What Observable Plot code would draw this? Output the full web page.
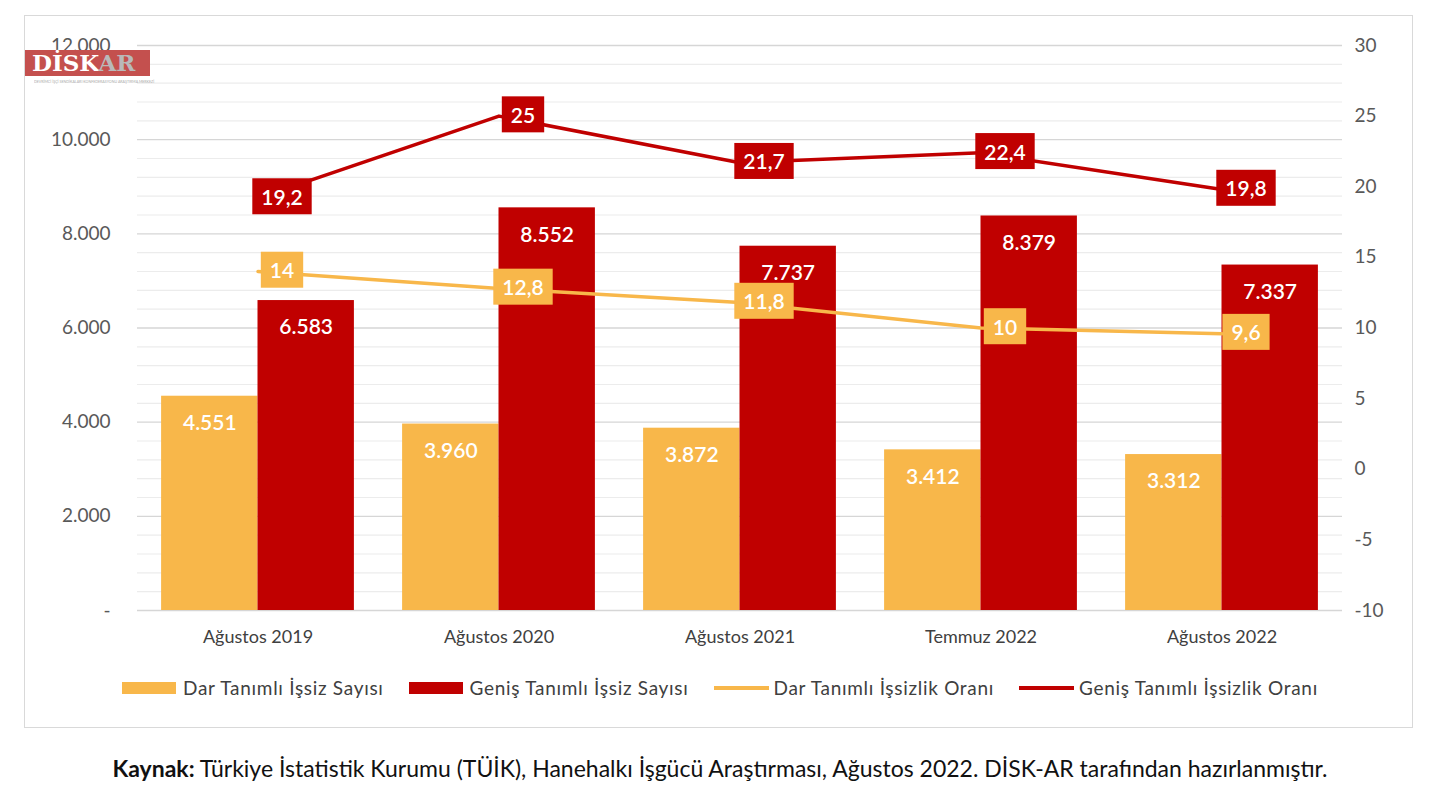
<!DOCTYPE html>
<html>
<head>
<meta charset="utf-8">
<script src="https://cdn.jsdelivr.net/npm/d3@7"></script>
<script src="https://cdn.jsdelivr.net/npm/@observablehq/plot@0.6"></script>
<style>
  html, body { margin: 0; padding: 0; background: #fff; }
  body { width: 1440px; height: 810px; position: relative; overflow: hidden; font-family: Lato, "Open Sans", sans-serif; }
  #frame { position: absolute; left: 24px; top: 15px; width: 1389px; height: 713px; border: 1.5px solid #d9d9d9; box-sizing: border-box; }
  #chart { position: absolute; left: 0; top: 0; }
  #logo { position: absolute; left: 25px; top: 50px; width: 125px; height: 26px; background: #c4504e; font-family: "DejaVu Serif", serif; font-weight: bold; font-size: 23px; line-height: 26px; padding-left: 7px; box-sizing: border-box; color: #fff; white-space: nowrap; }
  #logo .ar { color: #b9b9b9; }
  #logo-sub { position: absolute; left: 34px; top: 79px; font-size: 6px; color: #aaa; transform: scale(0.6); transform-origin: left top; white-space: nowrap; }
  #legend { position: absolute; top: 676px; left: 0; width: 1440px; display: flex; justify-content: center; align-items: center; font-size: 19px; letter-spacing: 0.7px; color: #404040; gap: 25px; padding-left: 0px; box-sizing: border-box; }
  .item { display: flex; align-items: center; }
  .sw { display: inline-block; width: 54px; height: 12px; margin-right: 7px; }
  .ln { display: inline-block; width: 55px; height: 4px; margin-right: 5px; }
  #caption { position: absolute; top: 754px; left: 0; width: 1440px; text-align: center; font-size: 23px; color: #111; }
  #caption b { font-weight: 700; }
</style>
</head>
<body>
<div id="frame"></div>
<div id="chart"></div>
<div id="logo">DİSK<span class="ar">AR</span></div>
<div id="logo-sub">DEVRİMCİ İŞÇİ SENDİKALARI KONFEDERASYONU ARAŞTIRMA MERKEZİ</div>
<div id="legend"></div>
<div id="caption"><b>Kaynak:</b> Türkiye İstatistik Kurumu (TÜİK), Hanehalkı İşgücü Araştırması, Ağustos 2022. DİSK-AR tarafından hazırlanmıştır.</div>
<script>
// ---- data ----
const categories = ["Ağustos 2019", "Ağustos 2020", "Ağustos 2021", "Temmuz 2022", "Ağustos 2022"];
const darSayisi = [4551, 3960, 3872, 3412, 3312];
const genisSayisi = [6583, 8552, 7737, 8379, 7337];
const darOran = [14, 12.8, 11.8, 10, 9.6];
const genisOran = [19.2, 25, 21.7, 22.4, 19.8];
const leftTicks = [0, 2000, 4000, 6000, 8000, 10000, 12000];
const rightTicks = [-10, -5, 0, 5, 10, 15, 20, 25, 30];
const seriesNames = ["Dar Tanımlı İşsiz Sayısı", "Geniş Tanımlı İşsiz Sayısı", "Dar Tanımlı İşsizlik Oranı", "Geniş Tanımlı İşsizlik Oranı"];

// ---- styles ----
const YEL = "#f8b74a";
const RED = "#c00000";

const rows = categories.map((c, i) => ({i, c, dar: darSayisi[i], genis: genisSayisi[i], darR: darOran[i], genisR: genisOran[i]}));

// secondary axis mapping: rate -10..30 -> 0..12000
const rateToLeft = r => (r + 10) * 300;

const tr = d3.formatLocale({decimal: ",", thousands: ".", grouping: [3], currency: ["", ""]});
const fmtInt = tr.format(",d");
const fmtRate = v => tr.format(",")(v);

const minor = d3.range(0, 12001, 400).filter(v => v % 2000 !== 0);

const chart = Plot.plot({
  width: 1440,
  height: 650,
  marginLeft: 137,
  marginRight: 98,
  marginTop: 45,
  marginBottom: 40,
  style: {fontFamily: "Lato, 'Open Sans', sans-serif", background: "transparent"},
  x: {type: "linear", domain: [-0.5, 4.5]},
  y: {domain: [0, 12000]},
  marks: [
    Plot.ruleY(minor, {stroke: "#ececec", strokeWidth: 1.2}),
    Plot.ruleY(leftTicks, {stroke: "#d6d6d6", strokeWidth: 1.3}),
    Plot.rectY(rows, {x1: d => d.i - 0.4, x2: d => d.i, y1: 0, y2: "dar", fill: YEL}),
    Plot.rectY(rows, {x1: d => d.i, x2: d => d.i + 0.4, y1: 0, y2: "genis", fill: RED}),
    Plot.text(rows, {x: d => d.i - 0.2, y: "dar", text: d => fmtInt(d.dar), dy: 27, fill: "#fff", fontSize: 21, fontWeight: 600}),
    Plot.text(rows, {x: d => d.i + 0.2, y: "genis", text: d => fmtInt(d.genis), dy: 27, fill: "#fff", fontSize: 21, fontWeight: 600}),
    Plot.line(rows, {x: "i", y: d => rateToLeft(d.darR), stroke: YEL, strokeWidth: 3.5}),
    Plot.line(rows, {x: "i", y: d => rateToLeft(d.genisR), stroke: RED, strokeWidth: 3.5}),
    Plot.text(rows, {x: "i", y: d => rateToLeft(d.darR), text: d => fmtRate(d.darR), dx: 24, fill: "#fff", fontSize: 21, fontWeight: 600}),
    Plot.text(rows, {x: "i", y: d => rateToLeft(d.genisR), text: d => fmtRate(d.genisR), dx: 24, fill: "#fff", fontSize: 21, fontWeight: 600}),
    Plot.axisY(leftTicks, {anchor: "left", tickSize: 0, tickPadding: 27, tickFormat: d => d === 0 ? "-" : fmtInt(d), fontSize: 19, fill: "#595959", label: null}),
    Plot.axisY(rightTicks.map(rateToLeft), {anchor: "right", tickSize: 0, tickPadding: 12, tickFormat: d => String(d / 300 - 10), fontSize: 19, fill: "#595959", label: null}),
    Plot.axisX(categories.map((c, i) => i), {anchor: "bottom", tickSize: 0, tickPadding: 20, tickFormat: i => categories[i], fontSize: 18, fill: "#404040", label: null})
  ]
});
document.getElementById("chart").appendChild(chart);

// label boxes behind the rate labels (3rd and 4th text marks)
const ns = "http://www.w3.org/2000/svg";
const textGroups = chart.querySelectorAll('g[aria-label="text"]');
[[textGroups[2], YEL], [textGroups[3], RED]].forEach(([g, col]) => {
  if (!g) return;
  g.querySelectorAll("text").forEach(t => {
    const b = t.getBBox();
    const r = document.createElementNS(ns, "rect");
    const cy = b.y + b.height / 2;
    r.setAttribute("x", b.x - 9);
    r.setAttribute("y", cy - 18);
    r.setAttribute("width", b.width + 18);
    r.setAttribute("height", 36);
    r.setAttribute("fill", col);
    if (t.getAttribute("transform")) r.setAttribute("transform", t.getAttribute("transform"));
    t.parentNode.insertBefore(r, t);
  });
});

// legend
const legend = document.getElementById("legend");
const legendStyles = [["sw", YEL], ["sw", RED], ["ln", YEL], ["ln", RED]];
seriesNames.forEach((name, k) => {
  const it = document.createElement("div");
  it.className = "item";
  const s = document.createElement("span");
  s.className = legendStyles[k][0];
  s.style.background = legendStyles[k][1];
  const t = document.createElement("span");
  t.textContent = name;
  it.appendChild(s); it.appendChild(t);
  legend.appendChild(it);
});
</script>
</body>
</html>
